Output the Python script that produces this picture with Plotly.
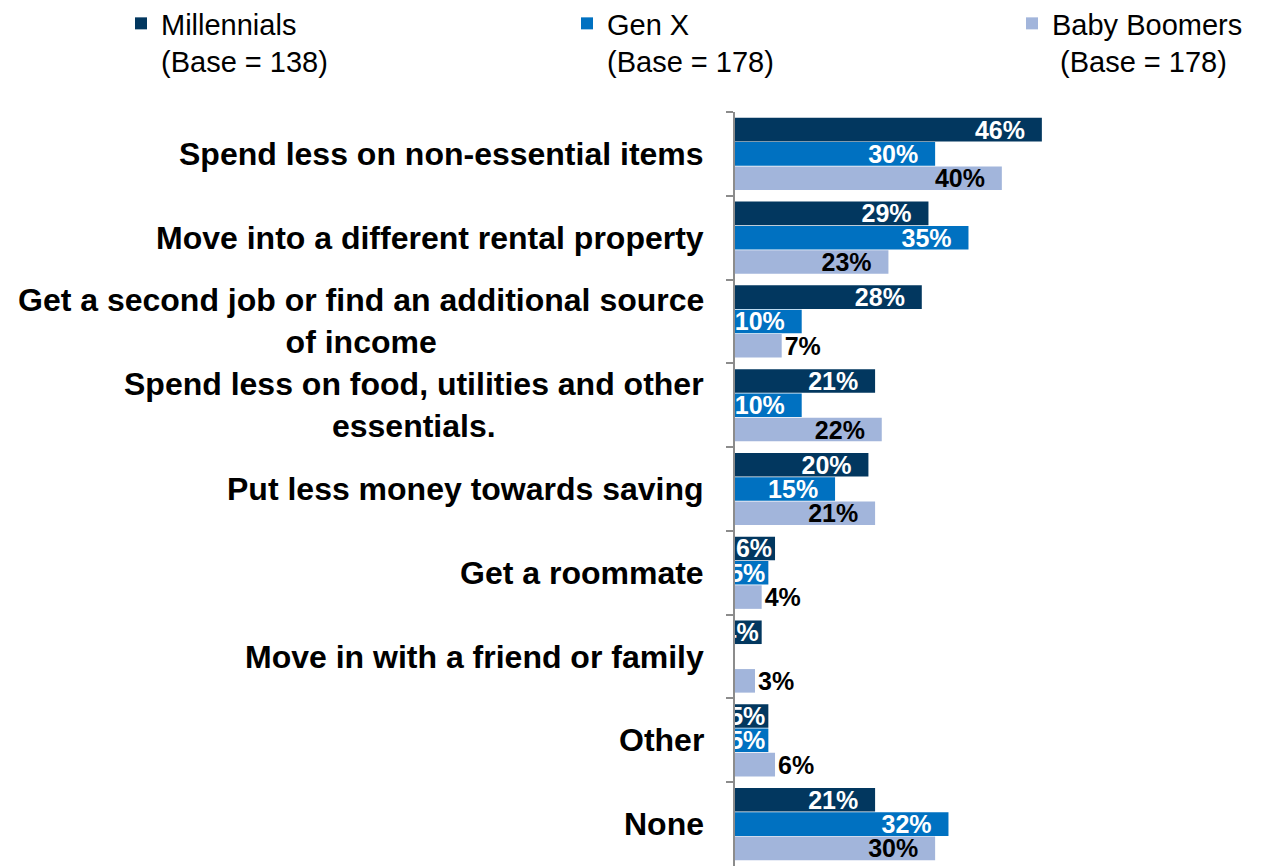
import plotly.graph_objects as go

categories = [
    "Spend less on non-essential items",
    "Move into a different rental property",
    "Get a second job or find an additional source<br>of income",
    "Spend less on food, utilities and other<br>essentials.",
    "Put less money towards saving",
    "Get a roommate",
    "Move in with a friend or family",
    "Other",
    "None",
]
millennials = [46, 29, 28, 21, 20, 6, 4, 5, 21]
gen_x = [30, 35, 10, 10, 15, 5, None, 5, 32]
baby_boomers = [40, 23, 7, 22, 21, 4, 3, 6, 30]

series_names = [
    "Millennials<br>(Base = 138)",
    "Gen X<br>(Base = 178)",
    "Baby Boomers<br>\u00a0(Base = 178)",
]
colors = ["#02375F", "#0071C1", "#A2B5DB"]

FONT = "Liberation Sans, Arial, sans-serif"
NB = "\u00a0\u00a0"
W, H = 1256, 858
T = 104
PLOT_H = H - T

def labels(vals):
    out = []
    for v in vals:
        if v is None:
            out.append("")
        elif v >= 10:
            out.append(f"{v}%{NB}")
        else:
            out.append(f"{v}%")
    return out

fig = go.Figure()

fig.add_trace(go.Bar(
    y=categories, x=millennials, orientation="h", name=series_names[0],
    marker=dict(color=colors[0], line=dict(width=0)),
    text=labels(millennials), textposition="inside", insidetextanchor="end",
    textangle=0,
    constraintext="none", textfont=dict(color="white", size=25, family=FONT, weight="bold"),
    legend="legend",
))
fig.add_trace(go.Bar(
    y=categories, x=gen_x, orientation="h", name=series_names[1],
    marker=dict(color=colors[1], line=dict(width=0)),
    text=labels(gen_x), textposition="inside", insidetextanchor="end",
    textangle=0,
    constraintext="none", textfont=dict(color="white", size=25, family=FONT, weight="bold"),
    legend="legend2",
))
bb_pos = ["inside" if v >= 8 else "outside" for v in baby_boomers]
bb_text = [f"{v}%{NB}" if v >= 8 else f"{v}%" for v in baby_boomers]
fig.add_trace(go.Bar(
    y=categories, x=baby_boomers, orientation="h", name=series_names[2],
    marker=dict(color=colors[2], line=dict(width=0)),
    text=bb_text, textposition=bb_pos, insidetextanchor="end",
    textangle=0,
    constraintext="none", textfont=dict(color="black", size=25, family=FONT, weight="bold"),
    cliponaxis=False,
    legend="legend3",
))

annotations = []
for c in categories:
    annotations.append(dict(
        xref="paper", yref="y", x=0, y=c, xanchor="right", yanchor="middle",
        xshift=-29, text=c, showarrow=False, align="center",
        font=dict(size=32, family=FONT, color="black", weight="bold"),
    ))

leg_common = dict(
    xref="container", yref="paper", yanchor="top", xanchor="left",
    y=1 + (T + 10) / PLOT_H, bgcolor="rgba(0,0,0,0)", valign="top",
    font=dict(size=29, family=FONT, color="black"),
)

fig.update_layout(
    width=W, height=H,
    margin=dict(l=727, r=10, t=T, b=0, autoexpand=False),
    paper_bgcolor="white", plot_bgcolor="white",
    barmode="group", bargap=0.13, bargroupgap=0.03,
    showlegend=True,
    legend=dict(x=113 / W, **leg_common),
    legend2=dict(x=559 / W, **leg_common),
    legend3=dict(x=1004 / W, **leg_common),
    xaxis=dict(range=[0, 77.8], visible=False, showgrid=False, zeroline=False),
    yaxis=dict(
        type="category", categoryorder="array", categoryarray=categories,
        autorange="reversed", showticklabels=False, showgrid=False,
        showline=True, linecolor="#8C8C8C", linewidth=2,
        ticks="outside", tickson="boundaries", ticklen=7, tickwidth=2, tickcolor="#8C8C8C",
    ),
    annotations=annotations,
)

fig.write_html("out.html")
